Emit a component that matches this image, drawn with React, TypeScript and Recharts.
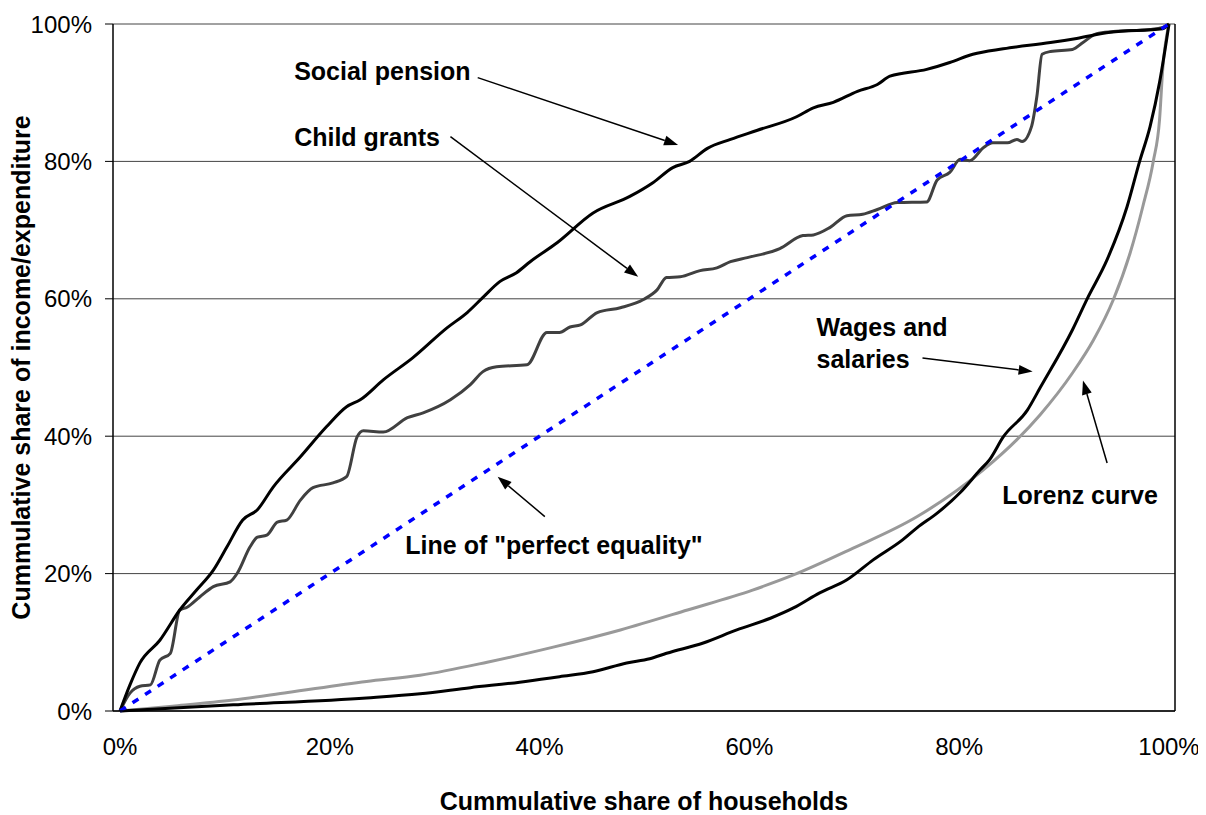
import { CartesianGrid, Line, LineChart, ReferenceDot, ReferenceLine, XAxis, YAxis } from "recharts";

// cumulative share of households (%) -> cumulative share of income/expenditure (%)
const xTicks = [0, 20, 40, 60, 80, 100];
const yTicks = [0, 20, 40, 60, 80, 100];

const equality: [number, number][] = [
  [0, 0],
  [100, 100],
];

const socialPension: [number, number][] = [
  [0, 0], [0.95, 3.8], [1.9, 7.0], [3.8, 10.3], [5.7, 14.7], [7.3, 17.6], [8.9, 20.5],
  [10.2, 23.9], [11.7, 27.8], [13.1, 29.3], [14.6, 32.6], [17.2, 37.0], [19.7, 41.4],
  [21.6, 44.3], [22.9, 45.3], [25.1, 48.2], [27.9, 51.4], [31.2, 55.8], [33.1, 58.0],
  [34.6, 60.2], [36.2, 62.5], [37.8, 63.8], [39.1, 65.4], [41.7, 68.2], [45.1, 72.5],
  [48.6, 74.9], [50.8, 76.9], [52.7, 79.1], [54.3, 80.0], [56.0, 81.9], [58.2, 83.2],
  [60.7, 84.5], [64.5, 86.5], [66.1, 87.8], [68.0, 88.6], [70.3, 90.2], [72.2, 91.2],
  [73.4, 92.4], [76.9, 93.4], [79.1, 94.4], [81.3, 95.6], [84.2, 96.4], [88.7, 97.3],
  [91.2, 97.9], [94.4, 98.8], [99.4, 99.3], [100, 100],
];

const childGrants: [number, number][] = [
  [0, 0], [0.95, 2.6], [1.9, 3.6], [2.9, 3.8], [3.8, 7.4], [4.8, 8.4], [5.7, 14.7],
  [6.4, 15.1], [7.6, 16.6], [8.9, 18.1], [10.5, 18.8], [11.2, 20.1], [12.4, 23.9],
  [13.1, 25.3], [14.0, 25.6], [15.0, 27.5], [15.9, 27.8], [17.2, 30.7], [18.4, 32.5],
  [20.3, 33.2], [21.6, 34.1], [22.6, 39.9], [23.2, 40.8], [25.1, 40.6], [27.4, 42.7],
  [28.9, 43.4], [31.5, 45.3], [33.4, 47.5], [34.6, 49.4], [35.9, 50.1], [38.8, 50.4],
  [40.7, 55.1], [41.9, 55.1], [42.9, 55.9], [43.9, 56.2], [45.5, 58.0], [47.7, 58.7],
  [49.9, 59.9], [51.2, 61.3], [52.1, 63.1], [53.4, 63.2], [55.3, 64.1], [56.9, 64.5],
  [58.2, 65.4], [59.8, 66.0], [62.9, 67.3], [65.1, 69.2], [66.1, 69.3], [67.7, 70.4],
  [69.3, 72.1], [70.8, 72.3], [72.2, 73.0], [74.1, 74.0], [76.9, 74.1], [77.9, 77.3],
  [79.1, 78.4], [80.1, 80.3], [81.0, 80.1], [82.3, 82.0], [83.2, 82.7], [84.6, 82.7],
  [85.5, 83.2], [86.0, 82.9], [86.9, 85.1], [87.4, 89.4], [87.9, 95.6], [88.7, 96.0],
  [90.8, 96.3], [91.8, 97.3], [93.1, 98.6], [94.7, 98.9], [98.2, 99.2], [99.4, 99.5],
  [100, 100],
];

const wages: [number, number][] = [
  [0, 0], [10.8, 0.9], [23.5, 1.9], [28.6, 2.5], [33.4, 3.4], [38.1, 4.2], [41.9, 5.0],
  [45.1, 5.7], [48.3, 7.0], [50.5, 7.6], [52.1, 8.4], [55.6, 9.9], [58.8, 11.8],
  [62.0, 13.5], [64.2, 15.0], [66.7, 17.2], [69.3, 19.1], [71.8, 22.0], [74.6, 24.9],
  [76.0, 26.7], [77.9, 28.8], [80.1, 31.8], [82.0, 35.1], [82.9, 36.6], [84.2, 39.9],
  [86.5, 43.8], [87.7, 47.0], [90.8, 55.5], [92.2, 60.0], [94.1, 65.7], [96.0, 73.4],
  [97.2, 80.0], [98.2, 85.1], [99.1, 91.5], [100, 100],
];

const lorenz: [number, number][] = [
  [0, 0], [5, 0.7], [10.8, 1.6], [16, 2.7], [23.5, 4.3], [28.6, 5.2], [35.0, 7.1],
  [41.3, 9.3], [47.7, 11.8], [54.1, 14.7], [60.3, 17.6], [64.2, 19.8], [69.6, 23.5],
  [76.0, 28.3], [82.3, 35.1], [85.5, 39.5], [87.7, 43.1], [90.8, 49.2], [92.8, 54.0],
  [94.7, 59.9], [96.3, 66.7], [97.5, 73.4], [98.5, 80.0], [99.1, 86.1], [99.4, 93.4],
  [100, 100],
];

// annotation texts and arrows, in data units
const labels = [
  { lines: ["Social pension"], x: 16.6, y: 93.1 },
  { lines: ["Child grants"], x: 16.6, y: 83.6 },
  { lines: ['Line of "perfect equality"'], x: 27.2, y: 24.2 },
  { lines: ["Wages and", "salaries"], x: 66.4, y: 55.9 },
  { lines: ["Lorenz curve"], x: 84.1, y: 31.5 },
];

const arrows = [
  { from: [34.1, 92.2], to: [53.2, 82.4] },
  { from: [31.5, 83.6], to: [49.4, 63.2] },
  { from: [40.5, 28.3], to: [36.0, 34.1] },
  { from: [76.5, 51.4], to: [87.0, 49.4] },
  { from: [94.1, 36.1], to: [91.8, 48.1] },
];

const FONT = "Arial, 'Liberation Sans', sans-serif";

const rows = (pairs: [number, number][]) => pairs.map(([x, y]) => ({ x, y }));

function ArrowShape(props: any) {
  const { x1, y1, x2, y2 } = props;
  const a = Math.atan2(y2 - y1, x2 - x1);
  const len = 14;
  const half = 5;
  const bx = x2 - len * Math.cos(a);
  const by = y2 - len * Math.sin(a);
  const pts = [
    `${x2},${y2}`,
    `${bx - half * Math.sin(a)},${by + half * Math.cos(a)}`,
    `${bx + half * Math.sin(a)},${by - half * Math.cos(a)}`,
  ].join(" ");
  return (
    <g>
      <line x1={x1} y1={y1} x2={bx} y2={by} stroke="#000" strokeWidth={1.5} />
      <polygon points={pts} fill="#000" />
    </g>
  );
}

function labelShape(lines: string[]) {
  return (p: any) => (
    <text x={p.cx} y={p.cy} fontFamily={FONT} fontSize={25} fontWeight="bold" fill="#000">
      {lines.map((l, i) => (
        <tspan key={i} x={p.cx} dy={i === 0 ? "0.36em" : 32}>
          {l}
        </tspan>
      ))}
    </text>
  );
}

export default function App() {
  return (
    <LineChart
      width={1198}
      height={807}
      margin={{ top: 16, right: 30, bottom: 54, left: 25 }}
      style={{ fontFamily: FONT }}
    >
      <CartesianGrid vertical={false} stroke="#444" strokeWidth={1} />
      <XAxis
        type="number"
        dataKey="x"
        domain={[0, 100]}
        ticks={xTicks}
        tickFormatter={(v) => `${v}%`}
        padding={{ left: 7, right: 6 }}
        axisLine={{ stroke: "#000", strokeWidth: 1.5 }}
        tickLine={false}
        tickSize={0}
        tickMargin={27}
        height={50}
        tick={{ fill: "#000", fontSize: 24, fontFamily: FONT }}
        label={(p: any) => (
          <text
            x={p.viewBox.x + p.viewBox.width / 2}
            y={p.viewBox.y + 90}
            textAnchor="middle"
            dominantBaseline="central"
            fontFamily={FONT}
            fontSize={25}
            fontWeight="bold"
            fill="#000"
          >
            Cummulative share of households
          </text>
        )}
      />
      <YAxis
        type="number"
        domain={[0, 100]}
        ticks={yTicks}
        tickFormatter={(v) => `${v}%`}
        width={80}
        axisLine={{ stroke: "#000", strokeWidth: 1.5 }}
        tickLine={{ stroke: "#000" }}
        tickSize={8}
        tickMargin={13}
        tick={{ fill: "#000", fontSize: 24, fontFamily: FONT }}
        label={(p: any) => {
          const cx = p.viewBox.x - 12;
          const cy = p.viewBox.y + p.viewBox.height / 2;
          return (
            <text
              x={cx}
              y={cy}
              transform={`rotate(-90 ${cx} ${cy})`}
              textAnchor="middle"
              dominantBaseline="central"
              fontFamily={FONT}
              fontSize={25}
              fontWeight="bold"
              fill="#000"
            >
              Cummulative share of income/expenditure
            </text>
          );
        }}
      />
      <YAxis
        yAxisId="right"
        orientation="right"
        type="number"
        domain={[0, 100]}
        width={1}
        tick={false}
        tickLine={false}
        axisLine={{ stroke: "#000", strokeWidth: 1.5 }}
      />
      <Line data={rows(lorenz)} dataKey="y" type="monotoneX" stroke="#999999" strokeWidth={3} dot={false} isAnimationActive={false} />
      <Line data={rows(wages)} dataKey="y" type="monotoneX" stroke="#000000" strokeWidth={3} dot={false} isAnimationActive={false} />
      <Line data={rows(childGrants)} dataKey="y" type="monotoneX" stroke="#404040" strokeWidth={3} dot={false} isAnimationActive={false} />
      <Line data={rows(socialPension)} dataKey="y" type="monotoneX" stroke="#000000" strokeWidth={3} dot={false} isAnimationActive={false} />
      <Line
        data={rows(equality)}
        dataKey="y"
        type="linear"
        stroke="#0000ff"
        strokeWidth={3.5}
        strokeDasharray="7 8"
        dot={false}
        isAnimationActive={false}
      />
      {arrows.map((a, i) => (
        <ReferenceLine
          key={`arrow-${i}`}
          segment={[
            { x: a.from[0], y: a.from[1] },
            { x: a.to[0], y: a.to[1] },
          ]}
          shape={ArrowShape}
        />
      ))}
      {labels.map((l, i) => (
        <ReferenceDot key={`label-${i}`} x={l.x} y={l.y} r={0} shape={labelShape(l.lines)} />
      ))}
    </LineChart>
  );
}
